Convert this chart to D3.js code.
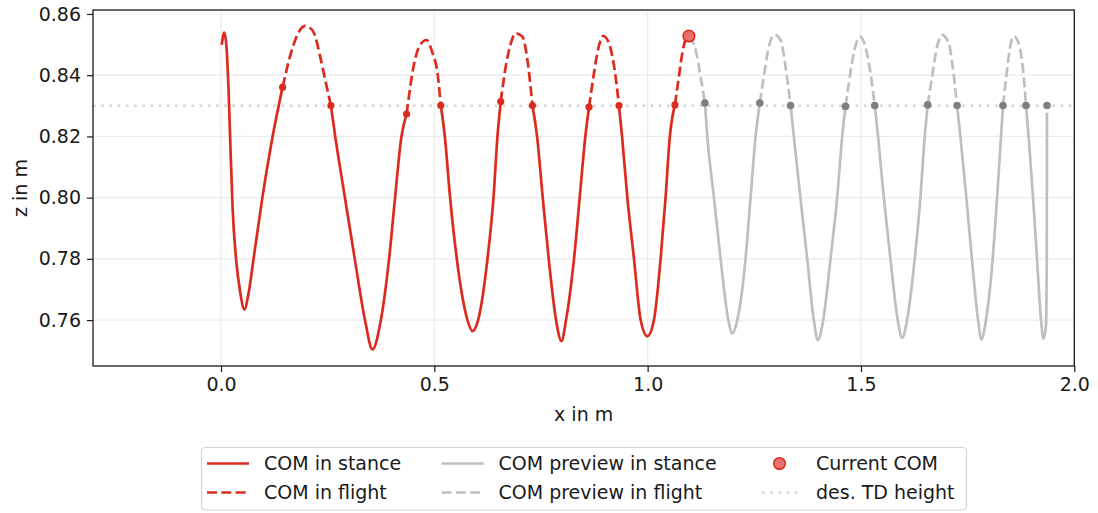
<!DOCTYPE html>
<html>
<head>
<meta charset="utf-8">
<script src="https://cdn.jsdelivr.net/npm/d3@7"></script>
<style>
  body { margin: 0; background: #fff; }
  text { font-family: "DejaVu Sans", sans-serif; }
</style>
</head>
<body>
<svg id="chart" width="1098" height="513"></svg>
<script>
// ---- data (x in m, z in m) ----
const tdHeight = 0.83;
const xTicks = [0.0, 0.5, 1.0, 1.5, 2.0];
const yTicks = [0.76, 0.78, 0.80, 0.82, 0.84, 0.86];

const comStance = [
  [[0.0016,0.8499],[0.0078,0.8539],[0.0133,0.8483],[0.018,0.8341],[0.0218,0.8178],[0.0274,0.796],[0.0351,0.7803],[0.0452,0.7689],[0.0546,0.7635],[0.0648,0.7689],[0.0766,0.7803],[0.097,0.80],[0.121,0.82],[0.1444,0.8361]],
  [[0.2576,0.8301],[0.2677,0.82],[0.2905,0.80],[0.3135,0.78],[0.3375,0.76],[0.355,0.7504],[0.3747,0.76],[0.394,0.78],[0.408,0.80],[0.423,0.82],[0.435,0.8273]],
  [[0.5152,0.8301],[0.5246,0.82],[0.537,0.80],[0.5527,0.78],[0.5777,0.76],[0.5894,0.7564],[0.6026,0.76],[0.6246,0.78],[0.6387,0.80],[0.648,0.82],[0.6557,0.8314]],
  [[0.73,0.8301],[0.7408,0.82],[0.7541,0.80],[0.7681,0.78],[0.7853,0.76],[0.798,0.7531],[0.8087,0.76],[0.8274,0.78],[0.8407,0.80],[0.854,0.82],[0.8626,0.8296]],
  [[0.9328,0.8301],[0.94,0.82],[0.9524,0.80],[0.968,0.78],[0.9836,0.76],[0.9993,0.7547],[1.0148,0.76],[1.0304,0.78],[1.042,0.80],[1.052,0.82],[1.064,0.8303]]
];

const comFlight = [
  [[0.1444,0.8361],[0.1639,0.8472],[0.1756,0.8521],[0.197,0.8561],[0.2147,0.8546],[0.2342,0.845],[0.2459,0.8374],[0.2576,0.8301]],
  [[0.435,0.8273],[0.4528,0.8439],[0.4644,0.8493],[0.4817,0.8515],[0.4958,0.8472],[0.5075,0.8407],[0.5152,0.8301]],
  [[0.6557,0.8314],[0.6674,0.8428],[0.6792,0.8504],[0.6909,0.8537],[0.7065,0.8526],[0.7182,0.845],[0.73,0.8301]],
  [[0.8626,0.8296],[0.8743,0.8407],[0.8837,0.8483],[0.8962,0.8528],[0.9094,0.8504],[0.9227,0.8417],[0.9328,0.8301]],
  [[1.064,0.8303],[1.0733,0.8396],[1.0812,0.8472],[1.0906,0.8521],[1.0967,0.8528]]
];

const previewStance = [
  [[1.1342,0.8309],[1.1398,0.82],[1.1554,0.80],[1.171,0.78],[1.189,0.76],[1.1984,0.7556],[1.2101,0.76],[1.2295,0.78],[1.2412,0.80],[1.253,0.82],[1.263,0.8309]],
  [[1.3349,0.8301],[1.3426,0.82],[1.358,0.80],[1.374,0.78],[1.3895,0.76],[1.399,0.7534],[1.4115,0.76],[1.4286,0.78],[1.4442,0.80],[1.456,0.82],[1.4637,0.8298]],
  [[1.5323,0.8301],[1.540,0.82],[1.5535,0.80],[1.569,0.78],[1.5862,0.76],[1.5965,0.7542],[1.608,0.76],[1.626,0.78],[1.6393,0.80],[1.6494,0.82],[1.6565,0.8303]],
  [[1.7252,0.8301],[1.733,0.82],[1.747,0.80],[1.760,0.78],[1.7745,0.76],[1.782,0.7537],[1.793,0.76],[1.8087,0.78],[1.819,0.80],[1.8283,0.82],[1.8329,0.8301]],
  [[1.8868,0.8301],[1.893,0.82],[1.9033,0.80],[1.9126,0.78],[1.922,0.76],[1.928,0.7539],[1.9335,0.758],[1.9355,0.78],[1.936,0.8277]]
];

const previewFlight = [
  [[1.0967,0.8528],[1.1124,0.8483],[1.1241,0.8396],[1.1342,0.8309]],
  [[1.263,0.8309],[1.2724,0.8396],[1.2826,0.8483],[1.2974,0.8532],[1.3115,0.8515],[1.3232,0.8428],[1.3349,0.8301]],
  [[1.4637,0.8298],[1.4715,0.8374],[1.4832,0.8472],[1.4973,0.8526],[1.5105,0.8493],[1.5222,0.8407],[1.5323,0.8301]],
  [[1.6565,0.8303],[1.6667,0.8396],[1.6768,0.8483],[1.6901,0.8532],[1.7057,0.8504],[1.7159,0.8417],[1.7252,0.8301]],
  [[1.8329,0.8301],[1.8407,0.8396],[1.8485,0.8483],[1.8579,0.8528],[1.8696,0.8504],[1.8799,0.8417],[1.8868,0.8301]]
];

// touchdown / liftoff events
const comEvents = [[0.1444,0.8361],[0.2576,0.8301],[0.435,0.8273],[0.5152,0.8301],[0.6557,0.8314],[0.73,0.8301],[0.8626,0.8296],[0.9328,0.8301],[1.064,0.8303]];
const previewEvents = [[1.1342,0.8309],[1.263,0.8309],[1.3349,0.8301],[1.4637,0.8298],[1.5323,0.8301],[1.6565,0.8303],[1.7252,0.8301],[1.8329,0.8301],[1.8868,0.8301],[1.936,0.8301]];
const currentCom = [1.0967, 0.8528];

// ---- layout ----
const svg = d3.select("#chart");
const mLeft = 93, mRight = 1074.3, mTop = 10, mBottom = 366;
const x = d3.scaleLinear().domain([-0.3, 2.0]).range([mLeft, mRight]);
const y = d3.scaleLinear().domain([0.7450, 0.8613]).range([mBottom, mTop]);

const RED = "#dc2b1e", GREY = "#bfbfbf", DARKGREY = "#7f7f7f";
const LW = 2.7, DASH = "10,4.3";

// grid
svg.append("g").selectAll("line").data(xTicks).join("line")
  .attr("x1", d => x(d)).attr("x2", d => x(d))
  .attr("y1", mTop).attr("y2", mBottom)
  .attr("stroke", "#ebebeb").attr("stroke-width", 1.2);
svg.append("g").selectAll("line").data(yTicks).join("line")
  .attr("x1", mLeft).attr("x2", mRight)
  .attr("y1", d => y(d)).attr("y2", d => y(d))
  .attr("stroke", "#ebebeb").attr("stroke-width", 1.2);

const plot = svg.append("g");

// des. TD height
plot.append("line")
  .attr("x1", mLeft).attr("x2", mRight)
  .attr("y1", y(tdHeight)).attr("y2", y(tdHeight))
  .attr("stroke", "#d6d6d6").attr("stroke-width", 2.5)
  .attr("stroke-dasharray", "2.7,5.5");

const line = d3.line()
  .x(d => x(d[0])).y(d => y(d[1]))
  .curve(d3.curveMonotoneX);

function drawSegments(segs, color, dash) {
  plot.append("g").selectAll("path").data(segs).join("path")
    .attr("d", line)
    .attr("fill", "none")
    .attr("stroke", color)
    .attr("stroke-width", LW)
    .attr("stroke-linejoin", "round")
    .attr("stroke-dasharray", dash);
}

drawSegments(previewStance, GREY, null);
drawSegments(previewFlight, GREY, DASH);
drawSegments(comStance, RED, null);
drawSegments(comFlight, RED, DASH);

plot.append("g").selectAll("circle").data(previewEvents).join("circle")
  .attr("cx", d => x(d[0])).attr("cy", d => y(d[1])).attr("r", 3.8)
  .attr("fill", DARKGREY);
plot.append("g").selectAll("circle").data(comEvents).join("circle")
  .attr("cx", d => x(d[0])).attr("cy", d => y(d[1])).attr("r", 3.6)
  .attr("fill", RED);

plot.append("circle")
  .attr("cx", x(currentCom[0])).attr("cy", y(currentCom[1])).attr("r", 5.8)
  .attr("fill", "#e8716b").attr("stroke", RED).attr("stroke-width", 1.5);

// frame
svg.append("rect")
  .attr("x", mLeft).attr("y", mTop)
  .attr("width", mRight - mLeft).attr("height", mBottom - mTop)
  .attr("fill", "none").attr("stroke", "#1a1a1a").attr("stroke-width", 1.3);

// axes
const xAxis = svg.append("g").attr("transform", `translate(0,${mBottom})`)
  .call(d3.axisBottom(x).tickValues(xTicks).tickFormat(d3.format(".1f")).tickSize(6).tickPadding(6));
const yAxis = svg.append("g").attr("transform", `translate(${mLeft},0)`)
  .call(d3.axisLeft(y).tickValues(yTicks).tickFormat(d3.format(".2f")).tickSize(6).tickPadding(6));
[xAxis, yAxis].forEach(a => {
  a.select(".domain").remove();
  a.selectAll(".tick line").attr("stroke", "#1a1a1a").attr("stroke-width", 1.2);
  a.selectAll(".tick text").attr("fill", "#1a1a1a").style("font-size", "19px")
    .style("font-family", "'DejaVu Sans', sans-serif");
});

svg.append("text")
  .attr("x", (mLeft + mRight) / 2).attr("y", 421)
  .attr("text-anchor", "middle").attr("fill", "#1a1a1a")
  .style("font-size", "19px").text("x in m");
svg.append("text")
  .attr("transform", `translate(27,${(mTop + mBottom) / 2}) rotate(-90)`)
  .attr("text-anchor", "middle").attr("fill", "#1a1a1a")
  .style("font-size", "19px").text("z in m");

// legend
const legend = svg.append("g");
legend.append("rect")
  .attr("x", 201.5).attr("y", 447.5).attr("width", 765).attr("height", 62.5)
  .attr("rx", 4).attr("fill", "#fff")
  .attr("stroke", "#d4d4d4").attr("stroke-width", 1.2);

const legendItems = [
  { label: "COM in stance", kind: "line", color: RED, dash: null, col: 0, row: 0 },
  { label: "COM in flight", kind: "line", color: RED, dash: DASH, col: 0, row: 1 },
  { label: "COM preview in stance", kind: "line", color: GREY, dash: null, col: 1, row: 0 },
  { label: "COM preview in flight", kind: "line", color: GREY, dash: DASH, col: 1, row: 1 },
  { label: "Current COM", kind: "marker", col: 2, row: 0 },
  { label: "des. TD height", kind: "dotted", col: 2, row: 1 }
];
const colX = [207, 441.5, 762];
const rowY = [463.5, 492.5];

const li = legend.selectAll("g.item").data(legendItems).join("g")
  .attr("class", "item")
  .attr("transform", d => `translate(${colX[d.col]},${rowY[d.row]})`);

li.filter(d => d.kind === "line").append("line")
  .attr("x1", 0).attr("x2", 42)
  .attr("stroke", d => d.color).attr("stroke-width", LW)
  .attr("stroke-dasharray", d => d.dash);
li.filter(d => d.kind === "dotted").append("line")
  .attr("x1", 0).attr("x2", 36)
  .attr("stroke", "#d6d6d6").attr("stroke-width", 2.5)
  .attr("stroke-dasharray", "2.7,5.5");
li.filter(d => d.kind === "marker").append("circle")
  .attr("cx", 17.5).attr("r", 5.8)
  .attr("fill", "#e8716b").attr("stroke", RED).attr("stroke-width", 1.5);
li.append("text")
  .attr("x", d => d.col === 2 ? 54 : 57)
  .attr("dy", "0.36em")
  .attr("fill", "#1a1a1a")
  .style("font-size", "19px")
  .text(d => d.label);
</script>
</body>
</html>
